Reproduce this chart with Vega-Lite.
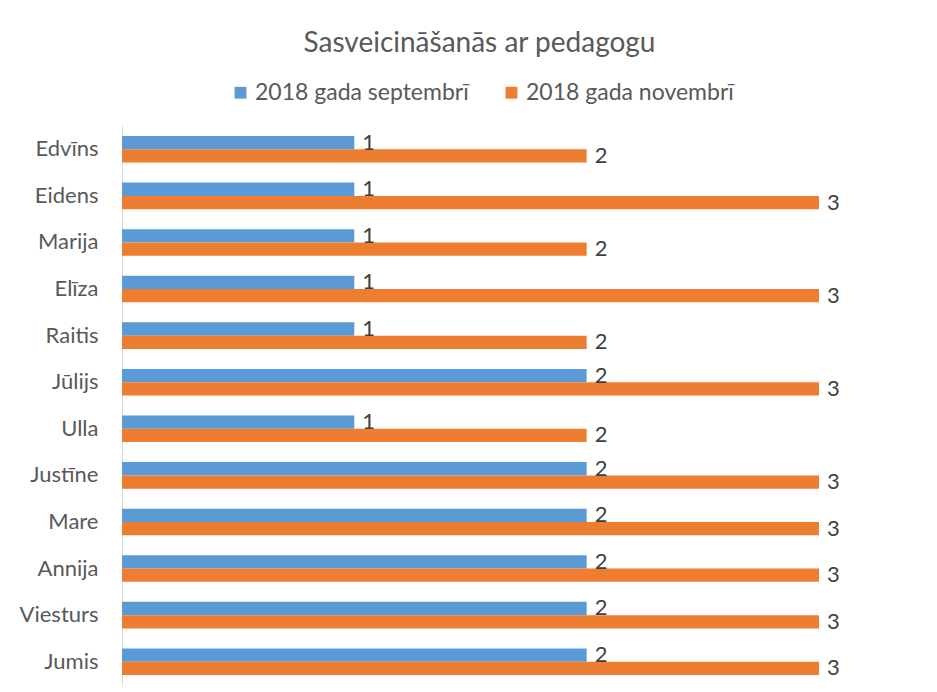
{
  "$schema": "https://vega.github.io/schema/vega-lite/v6.json",
  "width": 697,
  "height": 559,
  "autosize": {"type": "none"},
  "padding": {"left": 122, "top": 126, "right": 118, "bottom": 7},
  "background": "white",
  "title": {
    "text": "Sasveicināšanās ar pedagogu",
    "fontSize": 28,
    "font": "Lato",
    "fontWeight": "normal",
    "color": "#595959",
    "anchor": "middle",
    "baseline": "alphabetic",
    "dx": 9,
    "offset": 1
  },
  "data": {
    "values": [
      {"name": "Edvīns", "series": "2018 gada septembrī", "value": 1},
      {"name": "Edvīns", "series": "2018 gada novembrī", "value": 2},
      {"name": "Eidens", "series": "2018 gada septembrī", "value": 1},
      {"name": "Eidens", "series": "2018 gada novembrī", "value": 3},
      {"name": "Marija", "series": "2018 gada septembrī", "value": 1},
      {"name": "Marija", "series": "2018 gada novembrī", "value": 2},
      {"name": "Elīza", "series": "2018 gada septembrī", "value": 1},
      {"name": "Elīza", "series": "2018 gada novembrī", "value": 3},
      {"name": "Raitis", "series": "2018 gada septembrī", "value": 1},
      {"name": "Raitis", "series": "2018 gada novembrī", "value": 2},
      {"name": "Jūlijs", "series": "2018 gada septembrī", "value": 2},
      {"name": "Jūlijs", "series": "2018 gada novembrī", "value": 3},
      {"name": "Ulla", "series": "2018 gada septembrī", "value": 1},
      {"name": "Ulla", "series": "2018 gada novembrī", "value": 2},
      {"name": "Justīne", "series": "2018 gada septembrī", "value": 2},
      {"name": "Justīne", "series": "2018 gada novembrī", "value": 3},
      {"name": "Mare", "series": "2018 gada septembrī", "value": 2},
      {"name": "Mare", "series": "2018 gada novembrī", "value": 3},
      {"name": "Annija", "series": "2018 gada septembrī", "value": 2},
      {"name": "Annija", "series": "2018 gada novembrī", "value": 3},
      {"name": "Viesturs", "series": "2018 gada septembrī", "value": 2},
      {"name": "Viesturs", "series": "2018 gada novembrī", "value": 3},
      {"name": "Jumis", "series": "2018 gada septembrī", "value": 2},
      {"name": "Jumis", "series": "2018 gada novembrī", "value": 3}
    ]
  },
  "encoding": {
    "y": {
      "field": "name",
      "type": "nominal",
      "sort": null,
      "scale": {"paddingInner": 0.43, "paddingOuter": 0.215},
      "axis": {
        "title": null,
        "ticks": false,
        "labelPadding": 24,
        "labelFontSize": 22,
        "labelFont": "Lato",
        "labelColor": "#595959",
        "labelLimit": 200,
        "domainColor": "#d9d9d9",
        "domainWidth": 1,
        "grid": false
      }
    },
    "yOffset": {
      "field": "series",
      "type": "nominal",
      "sort": ["2018 gada septembrī", "2018 gada novembrī"]
    },
    "x": {
      "field": "value",
      "type": "quantitative",
      "scale": {"domain": [0, 3], "nice": false},
      "axis": null
    }
  },
  "layer": [
    {
      "mark": {"type": "bar", "clip": false},
      "encoding": {
        "color": {
          "field": "series",
          "type": "nominal",
          "scale": {
            "domain": ["2018 gada septembrī", "2018 gada novembrī"],
            "range": ["#5B9BD5", "#ED7D31"]
          },
          "legend": {
            "orient": "none",
            "legendX": 107,
            "legendY": -45,
            "direction": "horizontal",
            "title": null,
            "symbolType": "square",
            "symbolSize": 140,
            "symbolStrokeWidth": 0,
            "labelFontSize": 23,
            "labelFont": "Lato",
            "labelColor": "#595959",
            "labelLimit": 400,
            "columnPadding": 31,
            "labelOffset": 3
          }
        }
      }
    },
    {
      "mark": {
        "type": "text",
        "align": "left",
        "baseline": "middle",
        "dx": 8,
        "fontSize": 22,
        "font": "Lato",
        "color": "#404040"
      },
      "encoding": {"text": {"field": "value", "type": "quantitative"}}
    }
  ],
  "config": {"view": {"stroke": null}}
}
